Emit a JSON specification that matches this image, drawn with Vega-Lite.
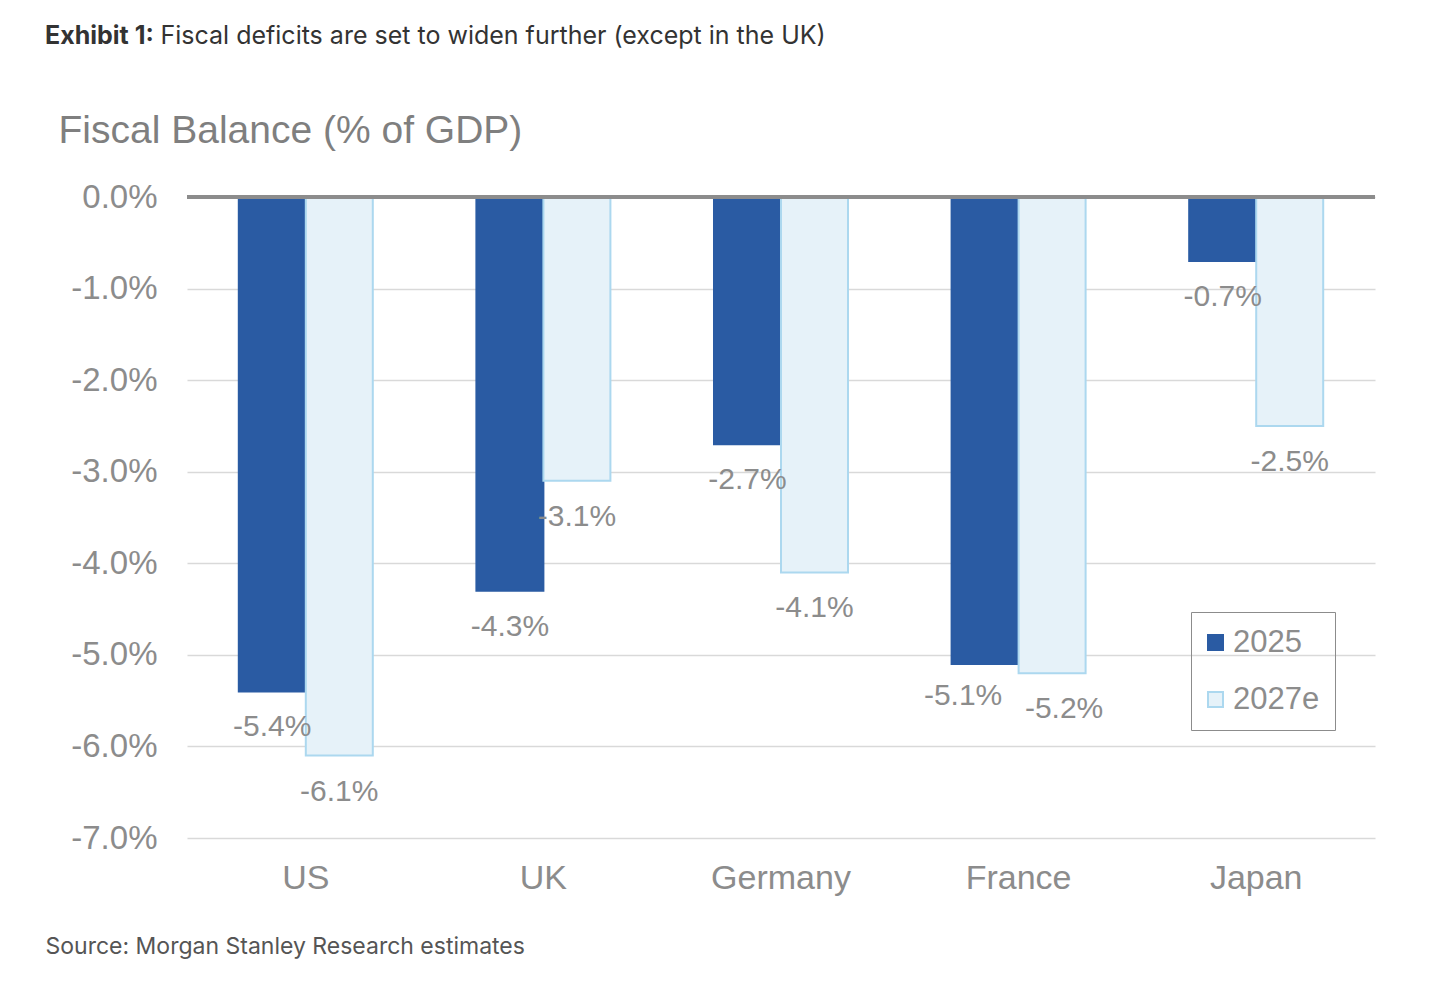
{
  "$schema": "https://vega.github.io/schema/vega-lite/v6.json",
  "width": 1188,
  "height": 641,
  "autosize": {"type": "none"},
  "padding": {"left": 187, "top": 197, "right": 65, "bottom": 144},
  "background": "white",
  "title": {
    "text": "Exhibit 1:",
    "anchor": "start",
    "frame": "group",
    "dx": -142,
    "offset": -26,
    "font": "Inter",
    "fontSize": 25,
    "fontWeight": "bold",
    "color": "#333333"
  },
  "config": {
    "view": {"stroke": null},
    "locale": {
      "number": {"decimal": ".", "thousands": ",", "grouping": [3], "currency": ["$", ""], "minus": "-"}
    },
    "axis": {"labelFont": "Liberation Sans", "titleFont": "Liberation Sans"},
    "legend": {"labelFont": "Liberation Sans"}
  },
  "data": {
    "values": [
      {"country": "US", "year": "2025", "balance": -0.054},
      {"country": "US", "year": "2027e", "balance": -0.061},
      {"country": "UK", "year": "2025", "balance": -0.043},
      {"country": "UK", "year": "2027e", "balance": -0.031},
      {"country": "Germany", "year": "2025", "balance": -0.027},
      {"country": "Germany", "year": "2027e", "balance": -0.041},
      {"country": "France", "year": "2025", "balance": -0.051},
      {"country": "France", "year": "2027e", "balance": -0.052},
      {"country": "Japan", "year": "2025", "balance": -0.007},
      {"country": "Japan", "year": "2027e", "balance": -0.025}
    ]
  },
  "encoding": {
    "x": {
      "field": "country",
      "type": "nominal",
      "sort": ["US", "UK", "Germany", "France", "Japan"],
      "scale": {"paddingInner": 0.436, "paddingOuter": 0.218},
      "axis": {
        "title": "Source: Morgan Stanley Research estimates",
        "titleFont": "Inter",
        "titleFontSize": 23,
        "titleFontWeight": "normal",
        "titleColor": "#555555",
        "titleAnchor": "start",
        "titleAlign": "left",
        "titleBaseline": "middle",
        "titleX": -142,
        "titleY": 108,
        "labelAngle": 0,
        "labelFontSize": 34,
        "labelColor": "#8c8c8c",
        "labelPadding": 23,
        "domain": false,
        "ticks": false
      }
    },
    "xOffset": {"field": "year", "type": "nominal", "scale": {"paddingInner": 0, "paddingOuter": 0}}
  },
  "layer": [
    {
      "mark": {"type": "bar", "strokeWidth": 2},
      "encoding": {
        "y": {
          "field": "balance",
          "type": "quantitative",
          "scale": {"domain": [-0.07, 0], "nice": false, "zero": false},
          "axis": {
            "values": [-0.07, -0.06, -0.05, -0.04, -0.03, -0.02, -0.01, 0],
            "format": ".1%",
            "title": "Fiscal Balance (% of GDP)",
            "titleAngle": 0,
            "titleAlign": "left",
            "titleBaseline": "middle",
            "titleX": -129,
            "titleY": -67,
            "titleFontSize": 39,
            "titleFontWeight": "normal",
            "titleColor": "#7f7f7f",
            "labelFontSize": 33,
            "labelColor": "#8c8c8c",
            "labelPadding": 30,
            "domain": false,
            "ticks": false,
            "gridColor": "#d9d9d9",
            "gridWidth": 1.5
          }
        },
        "color": {
          "field": "year",
          "type": "nominal",
          "scale": {"domain": ["2025", "2027e"], "range": ["#2a5ba3", "#e6f2f9"]},
          "legend": {
            "title": null,
            "orient": "none",
            "legendX": 1004,
            "legendY": 415,
            "labelFontSize": 31,
            "labelColor": "#8c8c8c",
            "symbolType": "square",
            "symbolSize": 225,
            "symbolStrokeWidth": 2,
            "symbolOffset": -6,
            "rowPadding": 25,
            "padding": 15,
            "strokeColor": "#8c8c8c",
            "labelOffset": 2
          }
        },
        "stroke": {
          "field": "year",
          "type": "nominal",
          "scale": {"domain": ["2025", "2027e"], "range": ["#2a5ba3", "#acd8ef"]},
          "legend": {
            "title": null,
            "orient": "none",
            "legendX": 1004,
            "legendY": 415,
            "labelFontSize": 31,
            "labelColor": "#8c8c8c",
            "symbolType": "square",
            "symbolSize": 225,
            "symbolStrokeWidth": 2,
            "symbolOffset": -6,
            "rowPadding": 25,
            "padding": 15,
            "strokeColor": "#8c8c8c",
            "labelOffset": 2
          }
        }
      }
    },
    {
      "transform": [{"filter": "datum.country !== 'France'"}],
      "mark": {
        "type": "text",
        "baseline": "middle",
        "align": "center",
        "dy": 36,
        "font": "Liberation Sans",
        "fontSize": 30,
        "color": "#8c8c8c"
      },
      "encoding": {
        "y": {"field": "balance", "type": "quantitative", "axis": null},
        "text": {"field": "balance", "type": "quantitative", "format": ".1%"}
      }
    },
    {
      "transform": [{"filter": "datum.country === 'France' && datum.year === '2025'"}],
      "mark": {
        "type": "text",
        "baseline": "middle",
        "align": "center",
        "dx": -22,
        "dy": 32,
        "font": "Liberation Sans",
        "fontSize": 30,
        "color": "#8c8c8c"
      },
      "encoding": {
        "y": {"field": "balance", "type": "quantitative", "axis": null},
        "text": {"field": "balance", "type": "quantitative", "format": ".1%"}
      }
    },
    {
      "transform": [{"filter": "datum.country === 'France' && datum.year === '2027e'"}],
      "mark": {
        "type": "text",
        "baseline": "middle",
        "align": "center",
        "dx": 12,
        "dy": 36,
        "font": "Liberation Sans",
        "fontSize": 30,
        "color": "#8c8c8c"
      },
      "encoding": {
        "y": {"field": "balance", "type": "quantitative", "axis": null},
        "text": {"field": "balance", "type": "quantitative", "format": ".1%"}
      }
    },
    {
      "mark": {"type": "rule", "color": "#8c8c8c", "strokeWidth": 3},
      "encoding": {
        "y": {
          "datum": 0,
          "type": "quantitative",
          "axis": {
            "orient": "right",
            "labels": false,
            "ticks": false,
            "domain": false,
            "grid": false,
            "title": "Fiscal deficits are set to widen further (except in the UK)",
            "titleFont": "Inter",
            "titleFontSize": 25,
            "titleFontWeight": "normal",
            "titleColor": "#333333",
            "titleAngle": 0,
            "titleAlign": "left",
            "titleBaseline": "middle",
            "titleX": -1215,
            "titleY": -162
          }
        },
        "x": {"value": 0},
        "x2": {"value": 1188},
        "xOffset": null
      }
    }
  ],
  "resolve": {"axis": {"y": "independent"}}
}
